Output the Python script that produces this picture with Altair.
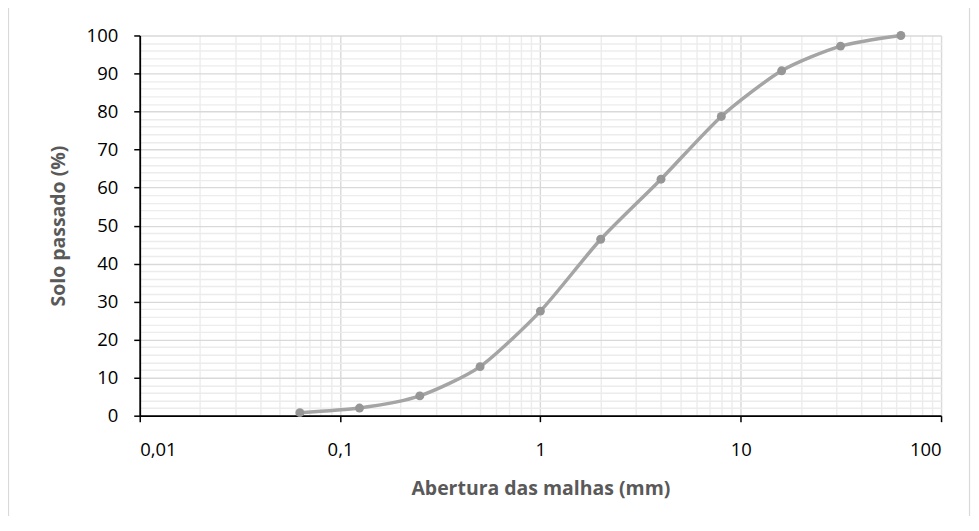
import altair as alt
import pandas as pd

# data
abertura = [0.063, 0.125, 0.25, 0.5, 1, 2, 4, 8, 16, 31.5, 63]
passado = [0.8, 2.0, 5.2, 12.9, 27.5, 46.4, 62.2, 78.7, 90.7, 97.2, 100.0]

x_major = [0.01, 0.1, 1, 10, 100]
x_minor = [d * k for d in [0.01, 0.1, 1, 10] for k in range(2, 10)]
y_ticks = list(range(0, 101, 2))

df = pd.DataFrame({"abertura": abertura, "passado": passado})

FONT = "Open Sans"
major_test_x = "indexof([0.01,0.1,1,10,100], datum.value) >= 0"
major_test_y = "datum.value % 10 == 0"

x_enc = alt.X(
    "abertura:Q",
    scale=alt.Scale(type="log", domain=[0.01, 100], nice=False),
    axis=alt.Axis(
        values=sorted(x_major + x_minor),
        title="Abertura das malhas (mm)",
        labelExpr=f"{major_test_x} ? replace(format(datum.value, ''), '.', ',') : ''",
        gridColor={"condition": {"test": major_test_x, "value": "#d9d9d9"}, "value": "#ececec"},
        gridWidth=1.4,
        tickSize={"condition": {"test": major_test_x, "value": 6}, "value": 0},
        labelPadding=19,
        titlePadding=20,
    ),
)
y_enc = alt.Y(
    "passado:Q",
    scale=alt.Scale(domain=[0, 100], nice=False),
    axis=alt.Axis(
        values=y_ticks,
        title="Solo passado (%)",
        labelExpr=f"{major_test_y} ? datum.label : ''",
        gridColor={"condition": {"test": major_test_y, "value": "#d9d9d9"}, "value": "#ececec"},
        gridWidth=1.4,
        tickSize={"condition": {"test": major_test_y, "value": 6}, "value": 0},
        labelPadding=16,
        titlePadding=18,
    ),
)

base = alt.Chart(df)
line = base.mark_line(color="#a5a5a5", strokeWidth=3.5, interpolate="cardinal", tension=0.3).encode(x=x_enc, y=y_enc)
pts = base.mark_point(filled=True, color="#969696", size=80, opacity=1).encode(x=x_enc, y=y_enc)

frame = alt.Chart(pd.DataFrame({"a": [0]})).mark_rect(
    fill="white", fillOpacity=0, stroke="#d9d9d9", strokeWidth=1.2, clip=False
).encode(
    x=alt.value(-131.5), x2=alt.value(831.5), y=alt.value(-28.5), y2=alt.value(489.5)
)

chart = alt.layer(frame, line, pts).properties(
    width=803,
    height=381,
    autosize=alt.AutoSizeParams(type="none"),
    padding={"left": 132, "top": 27, "right": 30, "bottom": 100},
).configure_view(stroke=None).configure_axis(
    domainColor="#000000",
    domainWidth=1.8,
    tickColor="#000000",
    tickWidth=1.5,
    labelFont=FONT,
    labelFontSize=18.5,
    labelColor="#000000",
    titleFont=FONT,
    titleFontSize=19.5,
    titleFontWeight="bold",
    titleColor="#595959",
)

chart.save("out.html", embed_options={"renderer": "svg", "actions": False})
